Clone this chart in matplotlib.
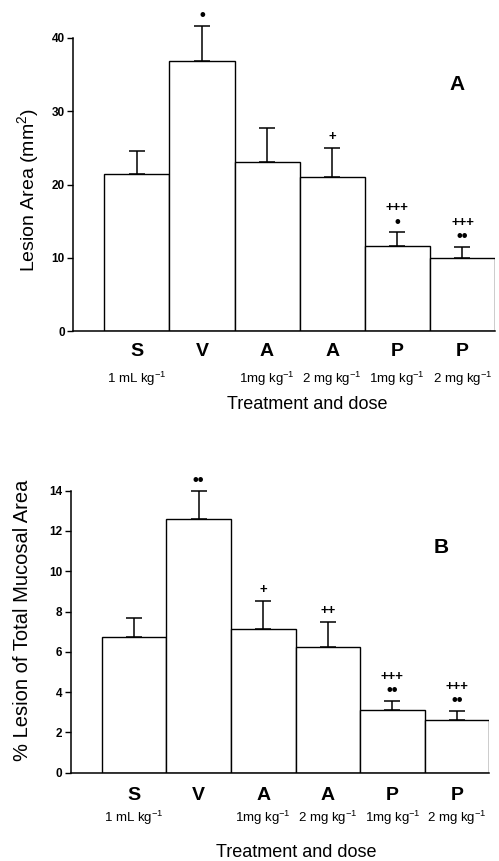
import numpy as np
import matplotlib
matplotlib.use("Agg")
import matplotlib.pyplot as plt

plt.rcParams['font.family'] = ['Liberation Sans', 'DejaVu Sans']
plt.rcParams['mathtext.fontset'] = 'custom'
plt.rcParams['mathtext.rm'] = 'Liberation Sans'
plt.rcParams['mathtext.it'] = 'Liberation Sans'

groups = ['S', 'V', 'A', 'A', 'P', 'P']
doses = ['1 mL kg$^{-1}$', '', '1mg kg$^{-1}$', '2 mg kg$^{-1}$',
         '1mg kg$^{-1}$', '2 mg kg$^{-1}$']

# panel A: lesion area (mm2)
area_mean = [21.5, 36.9, 23.1, 21.0, 11.6, 9.9]
area_sem = [3.1, 4.8, 4.6, 4.0, 1.9, 1.6]
area_plus = ['', '', '', '+', '+++', '+++']
area_dots = ['', '•', '', '', '•', '••']

# panel B: % lesion of total mucosal area
pct_mean = [6.75, 12.6, 7.12, 6.24, 3.11, 2.62]
pct_sem = [0.92, 1.4, 1.42, 1.26, 0.46, 0.46]
pct_plus = ['', '', '+', '++', '+++', '+++']
pct_dots = ['', '••', '', '', '••', '••']


def mark(ax, s, xy, off, size):
    ax.annotate(s, xy, xytext=(0, off), textcoords='offset pixels',
                ha='center', va='center', fontsize=size, fontweight='bold',
                annotation_clip=False)


def draw_panel(ax, means, sems, plus, dots, yticks, ylabel, letter, letter_xy,
               ylabel_xy, xlabel_xy, lab_off):
    x = np.arange(len(means))
    ax.bar(x, means, width=1.0, color='white', edgecolor='black', linewidth=1.0)
    ax.errorbar(x, means, yerr=[np.zeros(len(sems)), sems], fmt='none',
                ecolor='black', elinewidth=1.1, capsize=5.5, capthick=1.1,
                clip_on=False)

    # significance marks above the error bars
    for i in x:
        top = (i, means[i] + sems[i])
        if dots[i]:
            mark(ax, dots[i], top, 10, 12)
            if plus[i]:
                mark(ax, plus[i], top, 24, 9.5)
        elif plus[i]:
            mark(ax, plus[i], top, 11, 9.5)

    ax.set_xlim(-0.98, 5.5)
    ax.set_ylim(yticks[0], yticks[-1])
    ax.set_yticks(yticks)
    ax.set_xticks([])
    for lab in ax.get_yticklabels():
        lab.set_fontweight('bold')
    ax.tick_params(axis='y', direction='out', length=4, width=1, labelsize=8.5, pad=2)
    ax.spines['top'].set_visible(False)
    ax.spines['right'].set_visible(False)
    ax.spines['left'].set_linewidth(1.1)
    ax.spines['bottom'].set_linewidth(1.1)

    # category letters and doses under the axis
    for i in x:
        ax.annotate(groups[i], (i, 0), xycoords=('data', 'axes fraction'),
                    xytext=(0, lab_off[0]), textcoords='offset pixels',
                    ha='center', va='baseline', fontsize=14, fontweight='bold')
        if doses[i]:
            ax.annotate(doses[i], (i, 0), xycoords=('data', 'axes fraction'),
                        xytext=(0, lab_off[1]), textcoords='offset pixels',
                        ha='center', va='baseline', fontsize=9.5)
    ax.annotate('Treatment and dose', (xlabel_xy, 0), xycoords='axes fraction',
                xytext=(0, lab_off[2]), textcoords='offset pixels',
                ha='center', va='baseline', fontsize=13)

    ax.text(ylabel_xy[0], ylabel_xy[1], ylabel, transform=ax.transAxes,
            rotation=90, ha='center', va='center', fontsize=ylabel_xy[2])
    ax.text(letter_xy[0], letter_xy[1], letter, transform=ax.transAxes,
            ha='center', va='center', fontsize=15, fontweight='bold')


fig = plt.figure(figsize=(4.99, 8.61), dpi=100)
ax1 = fig.add_axes([73 / 499, 1 - 331 / 861, 422 / 499, 293 / 861])
ax2 = fig.add_axes([70.7 / 499, 1 - 772.7 / 861, 418.6 / 499, 282 / 861])

draw_panel(ax1, area_mean, area_sem, area_plus, area_dots, [0, 10, 20, 30, 40],
           'Lesion Area (mm$^2$)', 'A', (0.91, 0.843), (-0.107, 0.48, 14), 0.555,
           (-25, -52, -78))
draw_panel(ax2, pct_mean, pct_sem, pct_plus, pct_dots, list(range(0, 15, 2)),
           '% Lesion of Total Mucosal Area', 'B', (0.886, 0.80), (-0.116, 0.54, 14.5), 0.54,
           (-27, -49, -84))

fig.savefig('out.png', dpi=100)
